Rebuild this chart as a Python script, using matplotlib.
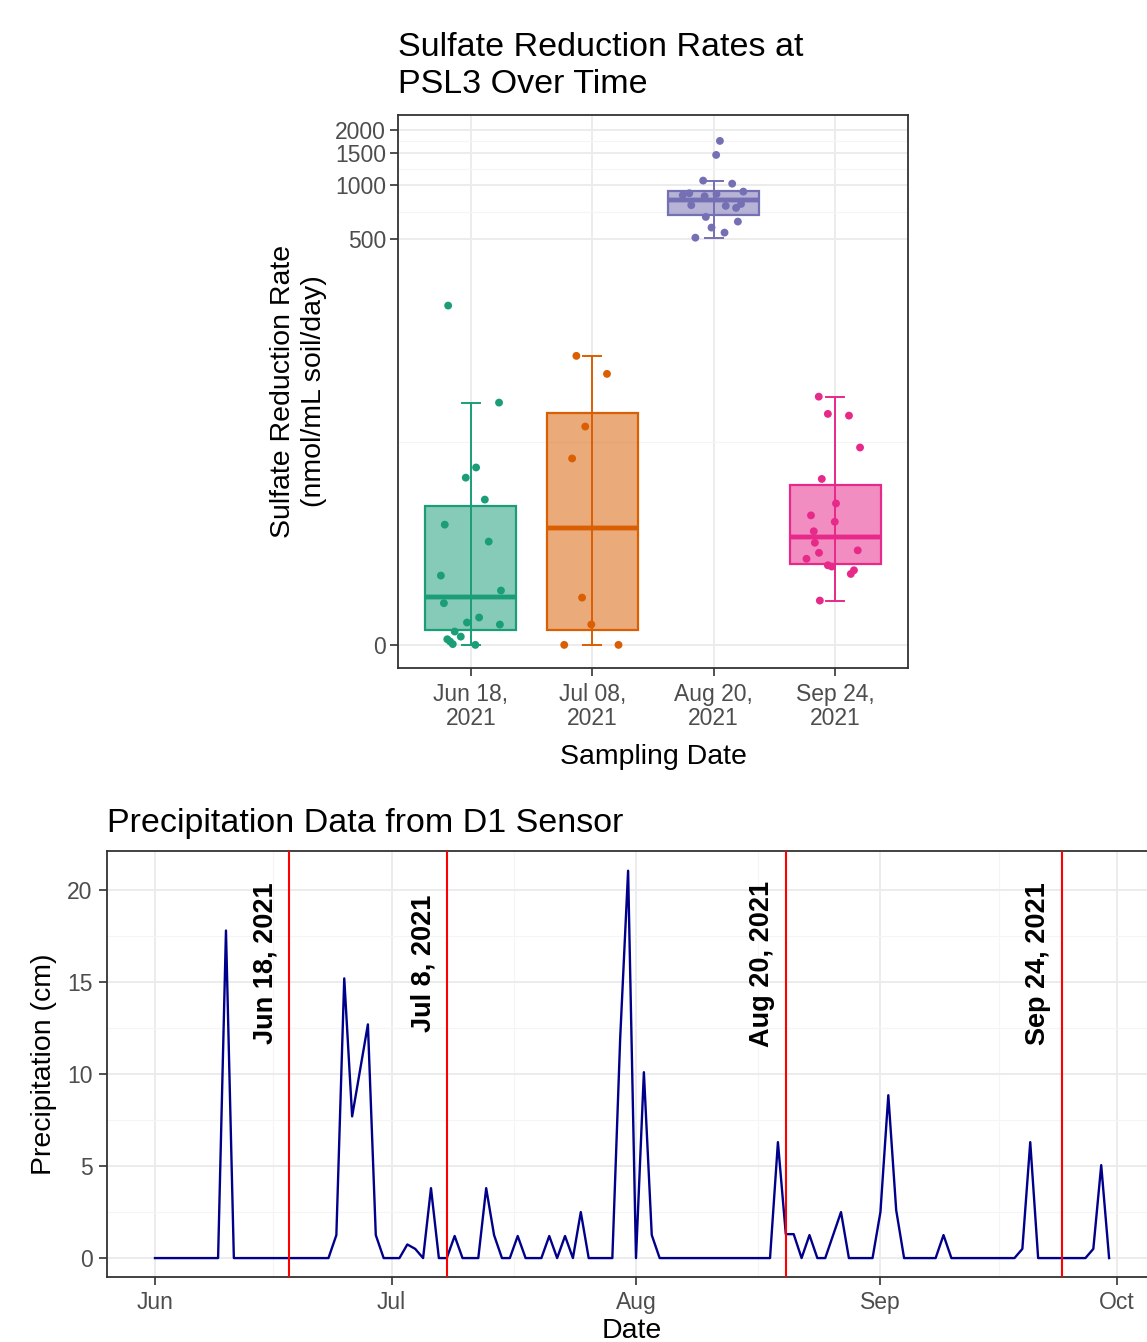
import numpy as np
import pandas as pd
import matplotlib
matplotlib.use("Agg")
import matplotlib.pyplot as plt
import matplotlib.dates as mdates

plt.rcParams['font.family'] = ['Liberation Sans', 'DejaVu Sans']

# ---------------- sulfate reduction data (nmol/mL soil/day) ----------------
sample_labels = ["Jun 18,\n2021", "Jul 08,\n2021", "Aug 20,\n2021", "Sep 24,\n2021"]
group_colors = ["#1B9E77", "#D95F02", "#7570B3", "#E7298A"]

rates_jun18 = [215, 61, 25.2, 21.8, 15.8, 10.7, 8.06, 4.2, 2.96, 2.08,
               1.24, 0.98, 0.88, 0.55, 0.33, 0.22, 0.13, 0.03, 0]
rates_jul08 = [112.5, 89, 44.3, 28.6, 2.45, 0.88, 0, 0]
rates_aug20 = [1742, 1459, 1054, 1014, 917, 898, 876, 890, 865,
               772, 765, 746, 784, 665, 627, 581, 545, 511]
rates_sep24 = [66, 52.5, 51.3, 33.3, 21.4, 14.9, 12.4, 11.2, 9.6,
               7.9, 6.6, 6.9, 5.9, 5.2, 5.07, 4.7, 4.35, 2.25]

# box statistics as drawn (computed on the transformed scale)
box_low = [0, 0, 511, 2.25]
box_q1 = [0.63, 0.63, 682, 5.35]
box_med = [2.5, 10.1, 828, 8.7]
box_q3 = [14.4, 53.4, 921, 19.7]
box_high = [61, 112.5, 1054, 65.8]

# horizontal jitter of the points (category units)
jitter_jun18 = [-0.187, 0.232, 0.043, -0.042, 0.115, -0.215, 0.147, -0.247, 0.248, -0.222,
                0.068, -0.032, 0.239, -0.133, -0.083, -0.194, -0.171, -0.149, 0.037]
jitter_jul08 = [-0.131, 0.121, -0.058, -0.166, -0.084, -0.008, -0.231, 0.216]
jitter_aug20 = [0.051, 0.020, -0.087, 0.152, 0.244, -0.201, -0.255, 0.023, -0.075,
                -0.185, 0.099, 0.184, 0.225, -0.065, 0.199, -0.018, 0.089, -0.151]
jitter_sep24 = [-0.135, -0.060, 0.114, 0.205, -0.110, 0.007, -0.199, -0.003, -0.176,
                -0.167, -0.133, 0.186, -0.236, -0.060, -0.028, 0.155, 0.129, -0.126]

y_breaks = [0, 500, 1000, 1500, 2000]

# ---------------- precipitation data (cm/day), Jun 1 - Sep 30 2021 ----------------
precip_jun = [0, 0, 0, 0, 0, 0, 0, 0, 0, 17.8,
              0, 0, 0, 0, 0, 0, 0, 0, 0, 0,
              0, 0, 0, 1.25, 15.2, 7.7, 10.2, 12.7, 1.25, 0]
precip_jul = [0, 0, 0.74, 0.5, 0, 3.8, 0, 0, 1.2, 0,
              0, 0, 3.8, 1.25, 0, 0, 1.2, 0, 0, 0,
              1.2, 0, 1.2, 0, 2.5, 0, 0, 0, 0, 12.0, 21.05]
precip_aug = [0, 10.1, 1.25, 0, 0, 0, 0, 0, 0, 0,
              0, 0, 0, 0, 0, 0, 0, 0, 6.3, 1.3,
              1.3, 0, 1.25, 0, 0, 1.25, 2.5, 0, 0, 0, 0]
precip_sep = [2.5, 8.85, 2.6, 0, 0, 0, 0, 0, 1.25, 0,
              0, 0, 0, 0, 0, 0, 0, 0, 0.5, 6.3,
              0, 0, 0, 0, 0, 0, 0, 0.5, 5.05, 0]

sampling_dates = ["2021-06-18", "2021-07-08", "2021-08-20", "2021-09-24"]
sampling_labels = ["Jun 18, 2021", "Jul 8, 2021", "Aug 20, 2021", "Sep 24, 2021"]

# ---------------- styling ----------------
GRID_MAJOR = "#EBEBEB"
GRID_MINOR = "#F5F5F5"
BORDER = "#333333"
TICKTXT = "#4D4D4D"


def fwd(x):
    return np.log10(np.clip(np.asarray(x, dtype=float) + 3.0, 1e-9, None))


def inv(y):
    return 10.0 ** np.asarray(y, dtype=float) - 3.0


def style_axes(ax):
    for sp in ax.spines.values():
        sp.set_color(BORDER)
        sp.set_linewidth(1.3)
    ax.tick_params(which='major', length=5.5, width=1.2, color=BORDER,
                   labelcolor=TICKTXT, labelsize=16.5)
    ax.tick_params(which='minor', length=0)
    ax.grid(which='major', color=GRID_MAJOR, linewidth=1.3, zorder=0)
    ax.grid(which='minor', color=GRID_MINOR, linewidth=0.8, zorder=0)
    ax.set_axisbelow(True)


fig = plt.figure(figsize=(11.47, 13.42), dpi=100)

# ================= top panel =================
ax1 = fig.add_axes([398 / 1147, 1 - 668 / 1342, 510 / 1147, 553 / 1342])
ax1.set_yscale('function', functions=(fwd, inv))

groups = [rates_jun18, rates_jul08, rates_aug20, rates_sep24]
jitters = [jitter_jun18, jitter_jul08, jitter_aug20, jitter_sep24]

for i, (vals, jit, col) in enumerate(zip(groups, jitters, group_colors)):
    pos = i + 1
    stats = [dict(med=box_med[i], q1=box_q1[i], q3=box_q3[i],
                  whislo=box_low[i], whishi=box_high[i], fliers=[])]
    ax1.bxp(stats, positions=[pos], widths=0.75, patch_artist=True,
            showfliers=False, capwidths=0.15,
            boxprops=dict(facecolor=col, alpha=0.53, edgecolor='none'),
            medianprops=dict(color=col, linewidth=3.2),
            whiskerprops=dict(color=col, linewidth=1.4),
            capprops=dict(color=col, linewidth=1.4), zorder=2)
    # box outline (opaque) and the errorbar line through the box
    ax1.bxp(stats, positions=[pos], widths=0.75, patch_artist=True,
            showfliers=False, showcaps=False,
            boxprops=dict(facecolor='none', edgecolor=col, linewidth=1.6),
            medianprops=dict(color=col, linewidth=3.2),
            whiskerprops=dict(linewidth=0), zorder=2.5)
    ax1.vlines(pos, box_q1[i], box_q3[i], color=col, linewidth=1.4, zorder=2.6)
    ax1.scatter(np.array(jit) + pos, vals, s=32, color=col, edgecolors='none',
                zorder=3)

ax1.set_xticks([1, 2, 3, 4])
ax1.set_xticklabels(sample_labels, linespacing=1.1)
ax1.set_yticks(y_breaks)
ax1.set_yticklabels([str(b) for b in y_breaks])
tb = fwd(y_breaks)
ax1.set_yticks(inv((tb[:-1] + tb[1:]) / 2), minor=True)
ax1.xaxis.set_minor_locator(matplotlib.ticker.NullLocator())
ax1.set_ylim(-0.76, 2418)
ax1.set_xlim(0.4, 4.6)
style_axes(ax1)
ax1.tick_params(axis='x', which='major', pad=5)
ax1.tick_params(axis='y', which='major', pad=3)

ax1.set_xlabel("Sampling Date", fontsize=20.5, labelpad=10)
ax1.set_ylabel("Sulfate Reduction Rate\n(nmol/mL soil/day)", fontsize=20.5,
               labelpad=6, linespacing=1.25)
ax1.set_title("Sulfate Reduction Rates at\nPSL3 Over Time", loc='left',
              fontsize=24.5, pad=16, linespacing=1.22)

# ================= bottom panel =================
dates = pd.date_range("2021-06-01", "2021-09-30", freq="D")
precip = precip_jun + precip_jul + precip_aug + precip_sep

ax2 = fig.add_axes([107.3 / 1147, 1 - 1277.4 / 1342, 1049.5 / 1147, 426 / 1342])
ax2.plot(dates, precip, color="#00008B", linewidth=1.7, zorder=3)

for d, lab in zip(sampling_dates, sampling_labels):
    dt = pd.Timestamp(d)
    ax2.axvline(dt, color="red", linewidth=1.5, zorder=4)
    ax2.text(dt - pd.Timedelta(days=3), 16, lab, rotation=90, ha='center',
             va='center', fontsize=19.5, fontweight='bold', color='black',
             zorder=5)

month_starts = pd.date_range("2021-05-01", "2021-11-01", freq="MS")
ax2.xaxis.set_major_locator(mdates.MonthLocator())
ax2.xaxis.set_major_formatter(mdates.DateFormatter("%b"))
mids = month_starts[:-1] + (month_starts[1:] - month_starts[:-1]) / 2
ax2.set_xticks(mdates.date2num(mids), minor=True)
ax2.set_yticks([0, 5, 10, 15, 20])
ax2.set_yticks([2.5, 7.5, 12.5, 17.5], minor=True)

span = dates[-1] - dates[0]
ax2.set_xlim(dates[0] - span * 0.05, dates[-1] + span * 0.05)
ax2.set_ylim(-1.05, 22.1)
style_axes(ax2)
ax2.tick_params(axis='x', which='major', pad=4)
ax2.tick_params(axis='y', which='major', pad=5)

ax2.set_xlabel("Date", fontsize=20.5, labelpad=3)
ax2.set_ylabel("Precipitation (cm)", fontsize=20.5, labelpad=7)
ax2.set_title("Precipitation Data from D1 Sensor", loc='left', fontsize=24.5,
              pad=14)

fig.savefig("out.png", dpi=100)
